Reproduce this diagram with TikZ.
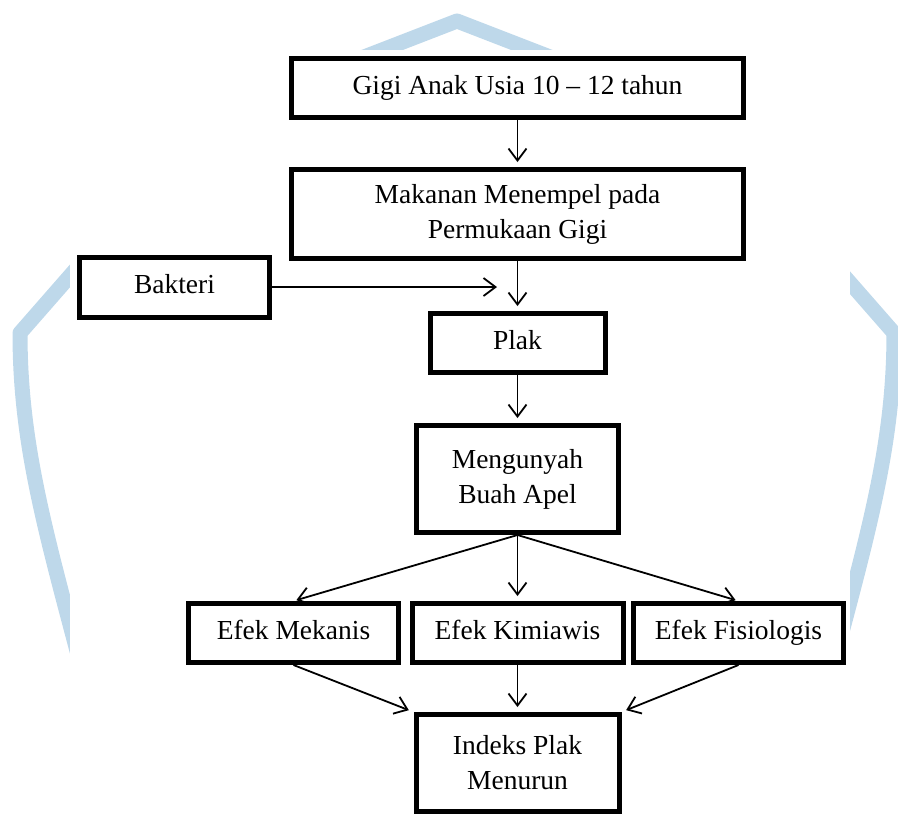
\documentclass[tikz,border=0pt]{standalone}
\usepackage{fontspec}
\setmainfont{Liberation Serif}
\usetikzlibrary{arrows.meta}
\definecolor{wmblue}{RGB}{190,216,234}
\tikzset{
    mybox/.style = {rectangle, line width=5pt, draw=black, align=center, inner sep=0pt, font=\fontsize{27.5pt}{35pt}\selectfont, text=black},
    myboxs/.style = {mybox, text height=19pt, text depth=6pt}, % one line
    edgen/.style = {-{Straight Barb[length=12pt,width=18pt]}, line width=1.8pt, black, shorten >=5pt},
    edgewm/.style = {line width=15pt, wmblue, line join=round}, % watermark
}

\begin{document}
\begin{tikzpicture}[x=1pt,y=-1pt]
\useasboundingbox (0,0) rectangle (898,815);
\draw[edgewm] (90,700) .. controls (48,540) and (20,450) .. (20,333) -- (209,117) -- (457,21) -- (705,117) -- (894,333) .. controls (894,450) and (866,540) .. (824,700);
\fill[white] (70,50) rectangle (850,815);

\node[myboxs, minimum width=452pt, minimum height=59pt] at (517.5, 88.0) (a) {Gigi Anak Usia 10 -- 12 tahun};
\node[mybox, minimum width=452pt, minimum height=89pt] at (517.5,214.0) (b) {Makanan Menempel pada\\Permukaan Gigi};
\node[myboxs, minimum width=190pt, minimum height=60pt] at (174.5,287.0) (c) {Bakteri};
\node[myboxs, minimum width=175pt, minimum height=59pt] at (517.5,343.0) (d) {Plak};
\node[mybox, minimum width=202pt, minimum height=107pt] at (517.5,479.0) (e) {Mengunyah\\Buah Apel};
\node[myboxs, minimum width=210pt, minimum height=59pt] at (293.5,633.0) (f) {Efek Mekanis};
\node[myboxs, minimum width=211pt, minimum height=59pt] at (517.5,633.0) (g) {Efek Kimiawis};
\node[myboxs, minimum width=210pt, minimum height=59pt] at (738.5,633.0) (h) {Efek Fisiologis};
\node[mybox, minimum width=203pt, minimum height=97pt] at (517.5,763.0) (i) {Indeks Plak\\Menurun};
\coordinate (x) at (497,287);

\draw[edgen] (a) -- (b);
\draw[edgen] (b) -- (d);
\draw[edgen, shorten >=0pt] (c) -- (x);
\draw[edgen] (d) -- (e);
\draw[edgen, shorten >=3pt] (e.south) -- (f.north);
\draw[edgen] (e.south) -- (g.north);
\draw[edgen, shorten >=3pt] (e.south) -- (h.north);
\draw[edgen] (f.south) -- (i.north west);
\draw[edgen] (g) -- (i);
\draw[edgen] (h.south) -- (i.north east);

\end{tikzpicture}
\end{document}
